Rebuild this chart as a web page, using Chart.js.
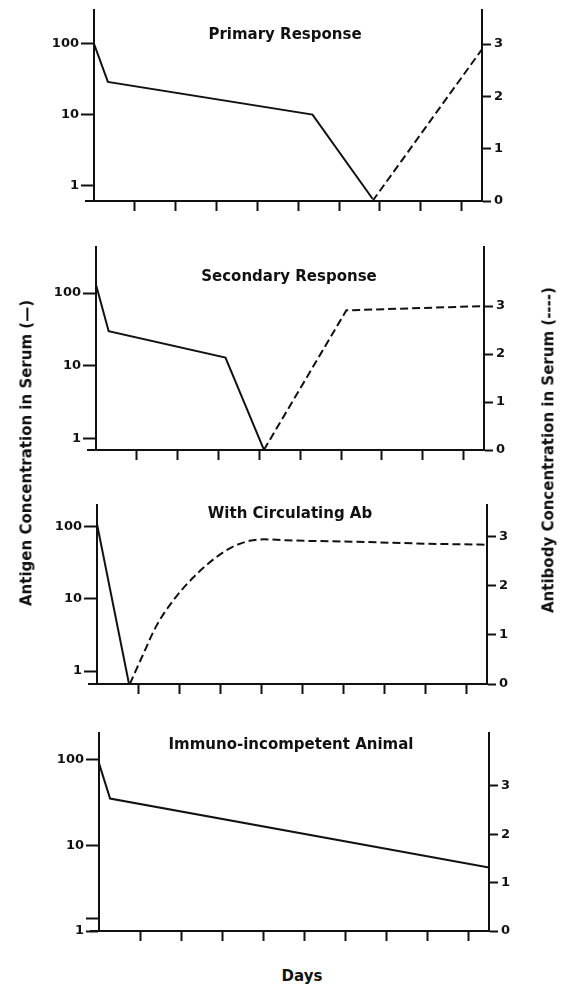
<!DOCTYPE html>
<html>
<head>
<meta charset="utf-8">
<script src="https://cdn.jsdelivr.net/npm/chart.js@4/dist/chart.umd.min.js"></script>
<style>
  html, body { margin: 0; padding: 0; background: #fff; }
  #fig { position: relative; width: 561px; height: 990px; overflow: hidden; background: #fff; }
  #fig canvas { position: absolute; left: 0; }
  .lbl { position: absolute; font: bold 15px "DejaVu Sans", sans-serif; color: #111; white-space: nowrap; line-height: 1.15; }
  .vert { transform: translate(-50%, -50%) rotate(-90deg); }
  .horiz { transform: translate(-50%, -50%); }
</style>
</head>
<body>
<div id="fig">
  <canvas id="panel1"></canvas>
  <canvas id="panel2"></canvas>
  <canvas id="panel3"></canvas>
  <canvas id="panel4"></canvas>
  <div class="lbl vert" style="left:27px; top:453px;">Antigen Concentration in Serum (—)</div>
  <div class="lbl vert" style="left:549px; top:450px;">Antibody Concentration in Serum (----)</div>
  <div class="lbl horiz" style="left:302px; top:977px;">Days</div>
</div>
<script>
// ---- values (days on x, antigen on log left axis, antibody on linear right axis) ----
const panelTitles = ["Primary Response", "Secondary Response", "With Circulating Ab", "Immuno-incompetent Animal"];

const primaryAntigenDays = [0, 0.34, 5.35, 6.82];
const primaryAntigen     = [100, 29, 10, 0.645];
const primaryAntibodyDays = [6.82, 9.5];
const primaryAntibody     = [0, 2.9];

const secondaryAntigenDays = [0, 0.31, 3.17, 4.11];
const secondaryAntigen     = [130, 30, 13, 0.71];
const secondaryAntibodyDays = [4.11, 6.13, 9.5];
const secondaryAntibody     = [0, 2.91, 3.0];

const circulatingAntigenDays = [0, 0.78];
const circulatingAntigen     = [110, 0.66];
const circulatingAntibodyDays = [0.8, 1.1, 1.45, 1.89, 2.33, 2.85, 3.29, 3.72, 4.07, 4.6, 6.34, 8.09, 9.5];
const circulatingAntibody     = [0, 0.56, 1.19, 1.74, 2.16, 2.55, 2.79, 2.92, 2.95, 2.93, 2.9, 2.86, 2.84];

const incompetentAntigenDays = [0, 0.27, 9.5];
const incompetentAntigen     = [90, 35, 5.5];

const antigenTickValues  = [1, 10, 100];
const antibodyTickValues = [0, 1, 2, 3];
const dayTickValues      = [1, 2, 3, 4, 5, 6, 7, 8, 9];
const extraAntigenMark   = 1.38;   // unlabelled mark on the last panel's left axis

// ---- layout of each panel on the page ----
const INK = '#111';
const FIG_W = 561;
const panels = [
  { id: 'panel1', area: { top: 10,  bottom: 201, left: 94, right: 482 }, logMin: 0.642, logMax: 301, abMax: 3.65,
    titleX: 285, titleY: 35,
    series: [[primaryAntigenDays, primaryAntigen, false], [primaryAntibodyDays, primaryAntibody, true]] },
  { id: 'panel2', area: { top: 247, bottom: 450, left: 96, right: 484 }, logMin: 0.71, logMax: 430, abMax: 4.23,
    titleX: 289, titleY: 277,
    series: [[secondaryAntigenDays, secondaryAntigen, false], [secondaryAntibodyDays, secondaryAntibody, true]] },
  { id: 'panel3', area: { top: 505, bottom: 684, left: 97, right: 487 }, logMin: 0.66, logMax: 202, abMax: 3.65,
    titleX: 290, titleY: 514, smoothDashed: true,
    series: [[circulatingAntigenDays, circulatingAntigen, false], [circulatingAntibodyDays, circulatingAntibody, true]] },
  { id: 'panel4', area: { top: 733, bottom: 931, left: 99, right: 489 }, logMin: 1, logMax: 203, abMax: 4.09,
    titleX: 291, titleY: 745, extraMark: true,
    series: [[incompetentAntigenDays, incompetentAntigen, false]] }
];

const tickFont = { family: '"DejaVu Sans", sans-serif', weight: 'bold', size: 13 };

// Title written inside the plotting area
const panelTitle = {
  id: 'panelTitle',
  afterDraw(chart, args, opts) {
    const ctx = chart.ctx;
    ctx.save();
    ctx.font = 'bold 15px "DejaVu Sans", sans-serif';
    ctx.fillStyle = INK;
    ctx.textAlign = 'center';
    ctx.textBaseline = 'middle';
    ctx.fillText(opts.text, opts.x, opts.y);
    ctx.restore();
  }
};

// Short run of the day axis to the left of the antigen axis
const axisStub = {
  id: 'axisStub',
  afterDraw(chart) {
    const { left, bottom } = chart.chartArea;
    const ctx = chart.ctx;
    ctx.save();
    ctx.strokeStyle = INK;
    ctx.lineWidth = 2;
    ctx.beginPath();
    ctx.moveTo(left - 9, bottom);
    ctx.lineTo(left, bottom);
    ctx.stroke();
    ctx.restore();
  }
};

function toPoints(xs, ys) { return xs.map((x, i) => ({ x, y: ys[i] })); }

panels.forEach((p, idx) => {
  const canvas = document.getElementById(p.id);
  const canvasTop = p.area.top - 8;
  const height = p.area.bottom + 20 - canvasTop;
  canvas.width = FIG_W;
  canvas.height = height;
  canvas.style.top = canvasTop + 'px';
  canvas.style.width = FIG_W + 'px';
  canvas.style.height = height + 'px';

  const datasets = p.series.map(([xs, ys, dashed]) => ({
    data: toPoints(xs, ys),
    yAxisID: dashed ? 'yR' : 'yL',
    borderColor: INK,
    borderWidth: 2,
    borderDash: dashed ? [8, 4] : [],
    pointRadius: 0,
    fill: false,
    tension: 0,
    cubicInterpolationMode: (dashed && p.smoothDashed) ? 'monotone' : 'default'
  }));

  const leftTicks = p.extraMark ? antigenTickValues.concat([extraAntigenMark]) : antigenTickValues;

  new Chart(canvas, {
    type: 'line',
    data: { datasets },
    plugins: [panelTitle, axisStub],
    options: {
      responsive: false,
      animation: false,
      devicePixelRatio: 1,
      events: [],
      layout: { padding: { top: 8, bottom: 6, left: 0, right: 0 } },
      plugins: {
        legend: { display: false },
        tooltip: { enabled: false },
        panelTitle: { text: panelTitles[idx], x: p.titleX, y: p.titleY - canvasTop }
      },
      scales: {
        x: {
          type: 'linear', min: 0, max: 9.5,
          afterBuildTicks: s => { s.ticks = dayTickValues.map(v => ({ value: v })); },
          afterFit: s => { s.height = 14; s.paddingLeft = 0; s.paddingRight = 0; },
          ticks: { display: false },
          grid: { drawOnChartArea: false, tickLength: 10, tickWidth: 2, tickColor: INK },
          border: { display: true, color: INK, width: 2 }
        },
        yL: {
          type: 'logarithmic', position: 'left', min: p.logMin, max: p.logMax,
          afterBuildTicks: s => { s.ticks = leftTicks.map(v => ({ value: v })); },
          afterFit: s => { s.width = p.area.left; s.paddingTop = 0; s.paddingBottom = 0; },
          ticks: {
            autoSkip: false, padding: 2, color: INK, font: tickFont,
            callback: v => (antigenTickValues.includes(v) ? String(v) : '')
          },
          grid: { drawOnChartArea: false, tickLength: 13, tickWidth: 2, tickColor: INK },
          border: { display: true, color: INK, width: 2 }
        },
        yR: {
          type: 'linear', position: 'right', min: 0, max: p.abMax,
          afterBuildTicks: s => { s.ticks = antibodyTickValues.map(v => ({ value: v })); },
          afterFit: s => { s.width = FIG_W - p.area.right; s.paddingTop = 0; s.paddingBottom = 0; },
          ticks: { autoSkip: false, padding: 3, color: INK, font: tickFont, callback: v => String(v) },
          grid: { drawOnChartArea: false, tickLength: 9, tickWidth: 2, tickColor: INK },
          border: { display: true, color: INK, width: 2 }
        }
      }
    }
  });
});
</script>
</body>
</html>
